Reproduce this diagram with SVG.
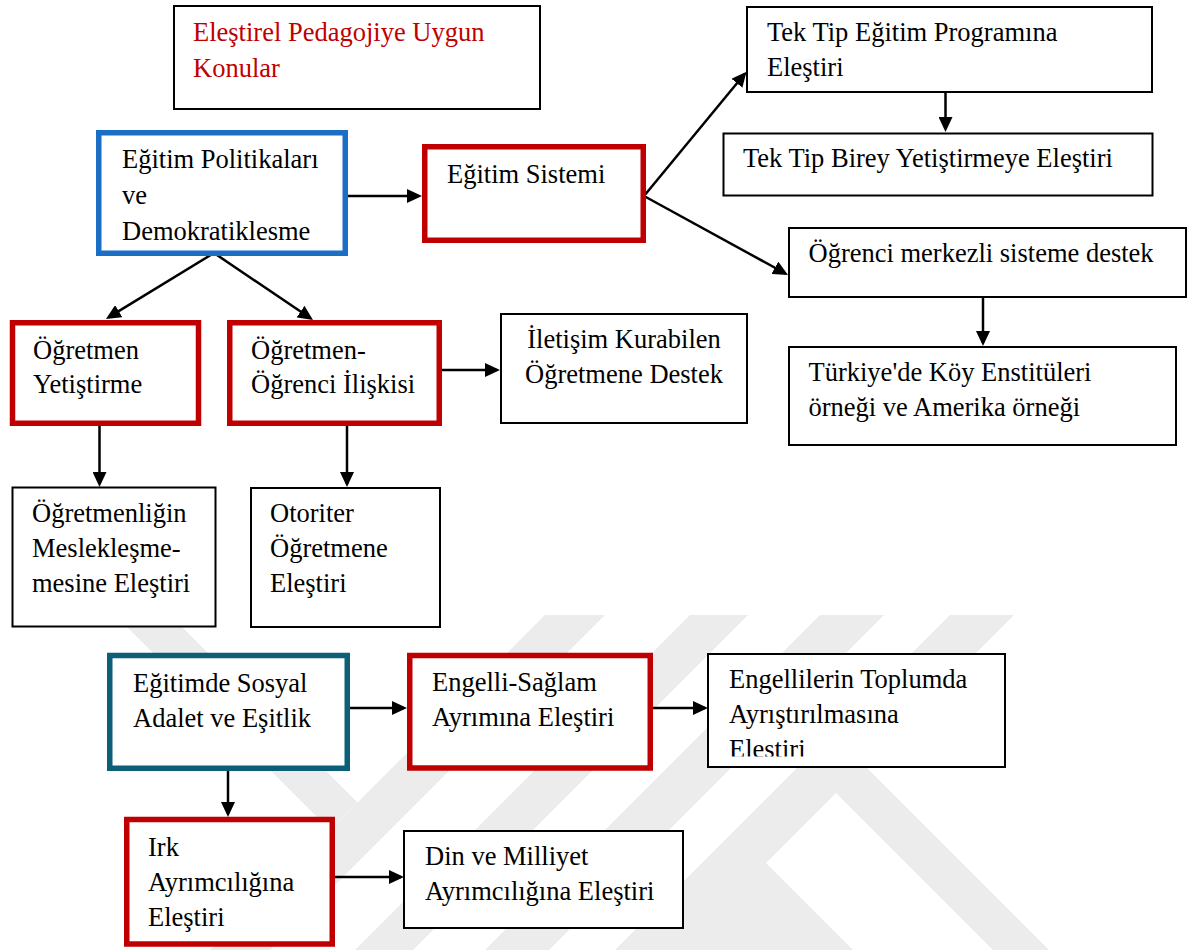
<svg xmlns="http://www.w3.org/2000/svg" width="1189" height="950" viewBox="0 0 1189 950">
  <style>
    text { font-family: "Liberation Serif", "Times New Roman", serif; font-size: 26.5px; fill: #000; }
    .red-text { fill: #c00000; }
    .box { fill: #fff; stroke: #000; stroke-width: 2; }
    .box-red { fill: #fff; stroke: #c00000; stroke-width: 5.5; }
    .box-blue { fill: #fff; stroke: #1a6fc4; stroke-width: 5.5; }
    .box-teal { fill: #fff; stroke: #0d5f78; stroke-width: 5.5; }
    .link { stroke: #000; stroke-width: 2.5; fill: none; marker-end: url(#arrow); }
    .mark { fill: #ececec; }
    .mid { text-anchor: middle; }
  </style>
  <defs>
    <marker id="arrow" viewBox="0 0 15 14" refX="12" refY="7" markerWidth="15" markerHeight="14" markerUnits="userSpaceOnUse" orient="auto">
      <path d="M0,0 L15,7 L0,14 z" fill="#000"/>
    </marker>
    <clipPath id="clip-engellilerin">
      <rect x="708" y="654" width="297" height="102.5"/>
    </clipPath>
  </defs>

  <rect width="1189" height="950" fill="#fff"/>

  <!-- background emblem stripes -->
  <g id="emblem">
    <polygon class="mark" points="115,615 170,615 357.5,802.5 330,830"/>
    <polygon class="mark" points="545,615 605,615 270,950 210,950"/>
    <polygon class="mark" points="690,615 748,615 413,950 355,950"/>
    <polygon class="mark" points="820,615 884,615 549,950 485,950"/>
    <polygon class="mark" points="950,615 1014,615 864,765 1049,950 993,950 836,793 766,863 853,950 615,950"/>
  </g>

  <!-- connectors -->
  <g id="connectors">
    <line class="link" x1="348" y1="196" x2="419" y2="196"/>
    <line class="link" x1="644" y1="196" x2="744.6" y2="74"/>
    <line class="link" x1="644" y1="196" x2="785.4" y2="273.5"/>
    <line class="link" x1="945.5" y1="92" x2="945.5" y2="129"/>
    <line class="link" x1="983" y1="298" x2="983" y2="343"/>
    <line class="link" x1="214" y1="253" x2="108.5" y2="317.4"/>
    <line class="link" x1="214" y1="253" x2="310.5" y2="318.3"/>
    <line class="link" x1="442" y1="370" x2="497" y2="370"/>
    <line class="link" x1="99.5" y1="426" x2="99.5" y2="484"/>
    <line class="link" x1="347" y1="426" x2="347" y2="484"/>
    <line class="link" x1="350" y1="708" x2="404" y2="708"/>
    <line class="link" x1="653" y1="708" x2="705" y2="708"/>
    <line class="link" x1="228" y1="771" x2="228" y2="814"/>
    <line class="link" x1="335" y1="877" x2="401" y2="877"/>
  </g>

  <g id="title">
    <rect class="box" x="174" y="6" width="366" height="103"/>
    <text class="red-text" x="193" y="41">Eleştirel Pedagojiye Uygun</text>
    <text class="red-text" x="193" y="77">Konular</text>
  </g>

  <g id="egitim-politikalari">
    <rect class="box-blue" x="98.75" y="132.75" width="246.5" height="120.5"/>
    <text x="122" y="168">Eğitim Politikaları</text>
    <text x="122" y="204">ve</text>
    <text x="122" y="240">Demokratiklesme</text>
  </g>

  <g id="egitim-sistemi">
    <rect class="box-red" x="424.75" y="146.75" width="218.5" height="93.5"/>
    <text x="447" y="183">Eğitim Sistemi</text>
  </g>

  <g id="tek-tip-program">
    <rect class="box" x="747" y="7" width="405" height="85"/>
    <text x="767" y="41">Tek Tip Eğitim Programına</text>
    <text x="767" y="76">Eleştiri</text>
  </g>

  <g id="tek-tip-birey">
    <rect class="box" x="723.5" y="133.5" width="429" height="62"/>
    <text x="743" y="167">Tek Tip Birey Yetiştirmeye Eleştiri</text>
  </g>

  <g id="ogrenci-merkezli">
    <rect class="box" x="789" y="228" width="397" height="69"/>
    <text x="808.5" y="262">Öğrenci merkezli sisteme destek</text>
  </g>

  <g id="koy-enstituleri">
    <rect class="box" x="789" y="347" width="387" height="98"/>
    <text x="808.5" y="381">Türkiye'de Köy Enstitüleri</text>
    <text x="808.5" y="416">örneği ve Amerika örneği</text>
  </g>

  <g id="ogretmen-yetistirme">
    <rect class="box-red" x="12.5" y="322.75" width="186" height="100.5"/>
    <text x="33" y="359">Öğretmen</text>
    <text x="33" y="393">Yetiştirme</text>
  </g>

  <g id="ogretmen-ogrenci">
    <rect class="box-red" x="229.75" y="322.75" width="209.5" height="100.5"/>
    <text x="251" y="359">Öğretmen-</text>
    <text x="251" y="393">Öğrenci İlişkisi</text>
  </g>

  <g id="iletisim">
    <rect class="box" x="501" y="314" width="246" height="109"/>
    <text class="mid" x="624" y="348">İletişim Kurabilen</text>
    <text class="mid" x="624" y="383">Öğretmene Destek</text>
  </g>

  <g id="mesleklesme">
    <rect class="box" x="12.5" y="487.5" width="203" height="139"/>
    <text x="32" y="522">Öğretmenliğin</text>
    <text x="32" y="557">Meslekleşme-</text>
    <text x="32" y="592">mesine Eleştiri</text>
  </g>

  <g id="otoriter">
    <rect class="box" x="251" y="488" width="189" height="139"/>
    <text x="270" y="522">Otoriter</text>
    <text x="270" y="557">Öğretmene</text>
    <text x="270" y="592">Eleştiri</text>
  </g>

  <g id="sosyal-adalet">
    <rect class="box-teal" x="109.75" y="655.5" width="237.5" height="112.75"/>
    <text x="133" y="692">Eğitimde Sosyal</text>
    <text x="133" y="727">Adalet ve Eşitlik</text>
  </g>

  <g id="engelli-saglam">
    <rect class="box-red" x="409.75" y="655.5" width="240.5" height="112.5"/>
    <text x="432" y="691">Engelli-Sağlam</text>
    <text x="432" y="726">Ayrımına Eleştiri</text>
  </g>

  <g id="engellilerin">
    <rect class="box" x="708" y="654" width="297" height="113"/>
    <g clip-path="url(#clip-engellilerin)">
      <text x="729" y="688">Engellilerin Toplumda</text>
      <text x="729" y="723">Ayrıştırılmasına</text>
      <text x="729" y="758">Eleştiri</text>
    </g>
  </g>

  <g id="irk">
    <rect class="box-red" x="126.75" y="819.5" width="205.5" height="124.5"/>
    <text x="148" y="856">Irk</text>
    <text x="148" y="891">Ayrımcılığına</text>
    <text x="148" y="926">Eleştiri</text>
  </g>

  <g id="din-milliyet">
    <rect class="box" x="404" y="831" width="279" height="97"/>
    <text x="425" y="865">Din ve Milliyet</text>
    <text x="425" y="900">Ayrımcılığına Eleştiri</text>
  </g>
</svg>
